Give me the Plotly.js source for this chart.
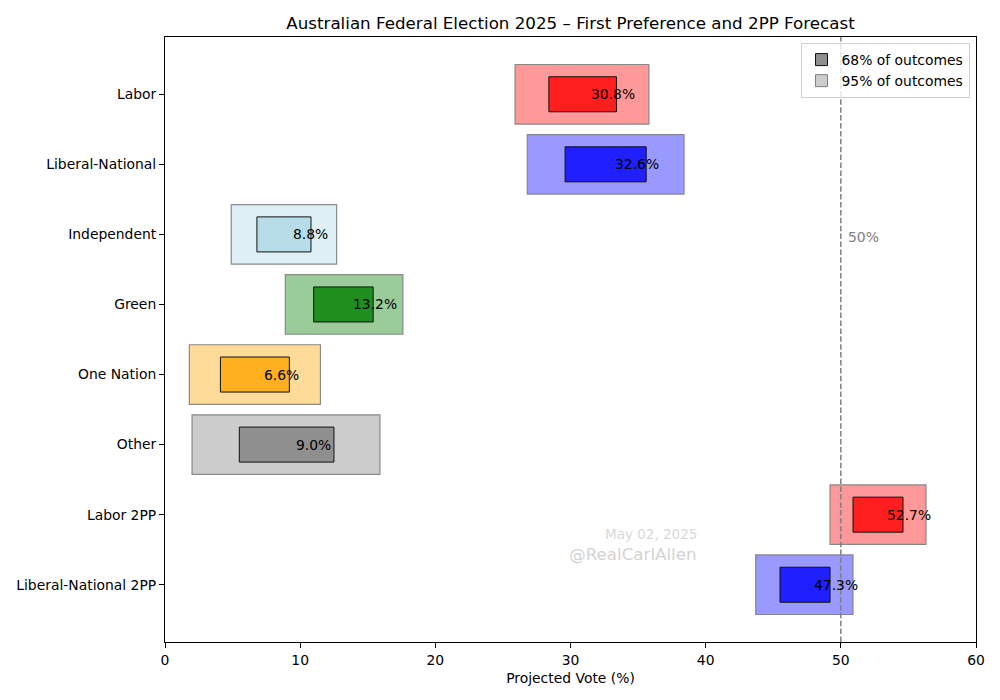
<!DOCTYPE html>
<html>
<head>
<meta charset="utf-8">
<script src="https://cdn.plot.ly/plotly-3.0.1.min.js"></script>
<style>html,body{margin:0;padding:0;background:#fff;}#chart{width:1000px;height:700px;}</style>
</head>
<body>
<div id="chart"></div>
<script>
const categories = ['Labor','Liberal-National','Independent','Green','One Nation','Other','Labor 2PP','Liberal-National 2PP'];
const median = [30.8, 32.6, 8.8, 13.2, 6.6, 9.0, 52.7, 47.3];
const lo68 = [28.4, 29.6, 6.8, 11.0, 4.1, 5.5, 50.9, 45.5];
const hi68 = [33.4, 35.6, 10.8, 15.4, 9.2, 12.5, 54.6, 49.2];
const lo95 = [25.9, 26.8, 4.9, 8.9, 1.8, 2.0, 49.2, 43.7];
const hi95 = [35.8, 38.4, 12.7, 17.6, 11.5, 15.9, 56.3, 50.9];
const partyRGB = [[255,0,0],[0,0,255],[173,216,230],[0,128,0],[255,165,0],[128,128,128],[255,0,0],[0,0,255]];
const threshold = 50;

const rgba = (c, a) => `rgba(${c[0]},${c[1]},${c[2]},${a})`;
const font = 'DejaVu Sans, Liberation Sans, sans-serif';
const fs = 13.9;

const traces = [];
categories.forEach((cat, i) => {
  traces.push({
    type: 'bar', orientation: 'h', y: [cat], base: [lo95[i]], x: [hi95[i] - lo95[i]],
    width: 0.85, marker: {color: rgba(partyRGB[i], 0.4), line: {color: 'rgba(128,128,128,0.9)', width: 1.2}},
    showlegend: false, hoverinfo: 'skip'
  });
  traces.push({
    type: 'bar', orientation: 'h', y: [cat], base: [lo68[i]], x: [hi68[i] - lo68[i]],
    width: 0.5, marker: {color: rgba(partyRGB[i], 0.8), line: {color: '#111', width: 1}},
    showlegend: false, hoverinfo: 'skip'
  });
});
traces.push({type: 'bar', orientation: 'h', y: [null], x: [null], name: '68% of outcomes',
  marker: {color: '#8f8f8f', line: {color: '#111', width: 1}}, showlegend: true, hoverinfo: 'skip'});
traces.push({type: 'bar', orientation: 'h', y: [null], x: [null], name: '95% of outcomes',
  marker: {color: '#cccccc', line: {color: 'gray', width: 1}}, showlegend: true, hoverinfo: 'skip'});

const annotations = categories.map((cat, i) => ({
  x: median[i] + 0.55, y: cat, xref: 'x', yref: 'y', text: median[i].toFixed(1) + '%',
  showarrow: false, xanchor: 'left', yanchor: 'middle', font: {family: font, size: fs, color: 'black'}
}));
annotations.push({x: threshold + 0.4, y: categories[2], xref: 'x', yref: 'y', text: threshold + '%',
  showarrow: false, xanchor: 'left', yanchor: 'middle', yshift: -3, font: {family: font, size: fs, color: 'gray'}});
annotations.push({x: 0.658, y: 0.178, xref: 'paper', yref: 'paper', text: 'May 02, 2025', showarrow: false,
  xanchor: 'right', yanchor: 'middle', font: {family: font, size: 13.5, color: '#d9d9d9'}});
annotations.push({x: 0.658, y: 0.145, xref: 'paper', yref: 'paper', text: '@RealCarlAllen', showarrow: false,
  xanchor: 'right', yanchor: 'middle', font: {family: font, size: 16.7, color: '#d3d3d3'}});

const layout = {
  width: 1000, height: 700,
  margin: {l: 165, r: 24, t: 37, b: 58},
  paper_bgcolor: 'white', plot_bgcolor: 'white',
  barmode: 'overlay',
  font: {family: font, size: fs, color: 'black'},
  title: {text: 'Australian Federal Election 2025 – First Preference and 2PP Forecast',
    font: {family: font, size: 16.7, color: 'black'}, x: 0.5705, xanchor: 'center', y: 0.967, yanchor: 'middle'},
  xaxis: {range: [0, 60], dtick: 10, tick0: 0, showgrid: false, zeroline: false,
    showline: true, linecolor: 'black', linewidth: 1, mirror: true,
    ticks: 'outside', ticklen: 5, tickcolor: 'black', tickfont: {family: font, size: fs},
    title: {text: 'Projected Vote (%)', font: {family: font, size: fs}, standoff: 6}},
  yaxis: {type: 'category', categoryorder: 'array', categoryarray: categories, range: [7.8175, -0.8175],
    showgrid: false, zeroline: false, showline: true, linecolor: 'black', linewidth: 1, mirror: true,
    ticks: 'outside', ticklen: 5, tickcolor: 'black', tickfont: {family: font, size: fs}},
  shapes: [{type: 'line', xref: 'x', yref: 'paper', x0: threshold, x1: threshold, y0: 0, y1: 1,
    line: {color: 'gray', width: 1.5, dash: '5.5px,2.4px'}, layer: 'above'}],
  annotations: annotations,
  legend: {x: 0.992, y: 0.99, xanchor: 'right', yanchor: 'top', bgcolor: 'rgba(255,255,255,0.8)',
    bordercolor: '#d0d0d0', borderwidth: 1, font: {family: font, size: fs}, traceorder: 'normal'},
  showlegend: true
};

Plotly.newPlot('chart', traces, layout, {displayModeBar: false, staticPlot: true});
</script>
</body>
</html>
